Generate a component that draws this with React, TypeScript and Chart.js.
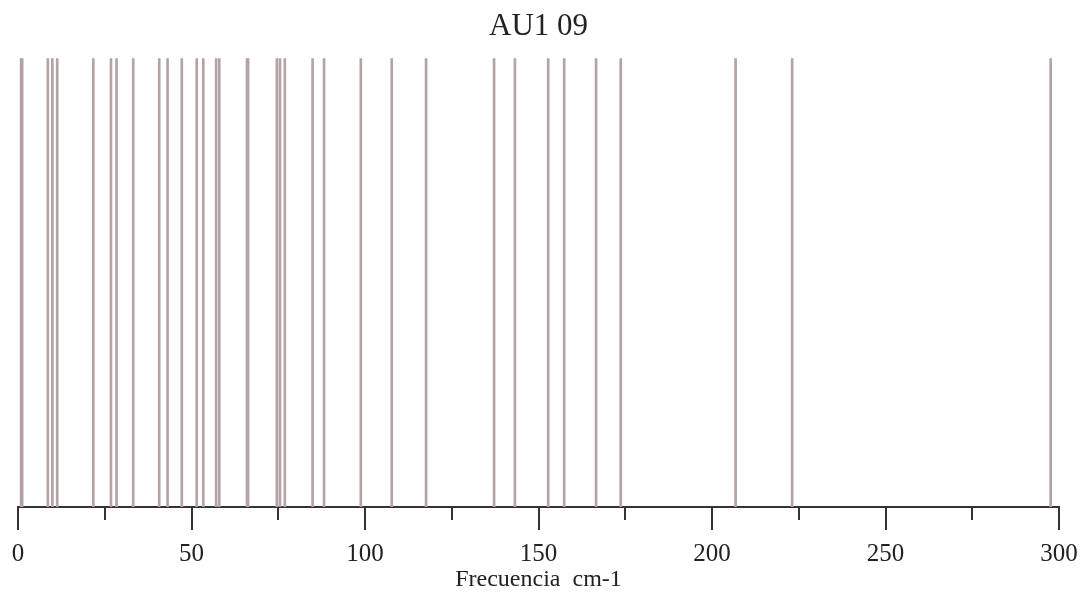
import React, { useEffect, useRef } from "react";
import { Chart, registerables } from "chart.js";

Chart.register(...registerables);

const chartTitle = "AU1 09";
const axisTitle = "Frecuencia  cm-1";
const frequencies: number[] = [
  0.9, 1.2, 8.6, 9.9, 11.3, 21.7, 26.8, 28.4, 33.2, 40.7, 43.1, 47.2, 51.5, 53.4,
  57.1, 58.0, 66.0, 66.3, 74.6, 75.5, 76.9, 84.9, 88.2, 98.8, 107.7, 117.6, 137.2,
  143.2, 152.8, 157.4, 166.6, 173.7, 206.8, 223.1, 297.6,
];
const intensities: number[] = frequencies.map(() => 1);
const tickValues: number[] = [0, 25, 50, 75, 100, 125, 150, 175, 200, 225, 250, 275, 300];

const FONT = "'Liberation Serif', 'DejaVu Serif', serif";

const tickPlugin = {
  id: "customTicks",
  afterDraw(chart: any) {
    const scale = chart.scales.x;
    const ctx = chart.ctx;
    const bottom = chart.chartArea.bottom;
    ctx.save();
    ctx.strokeStyle = "#333";
    ctx.lineWidth = 2;
    tickValues.forEach((v) => {
      const x = Math.round(scale.getPixelForValue(v));
      const len = v % 50 === 0 ? 23 : 13;
      ctx.beginPath();
      ctx.moveTo(x, bottom);
      ctx.lineTo(x, bottom + len);
      ctx.stroke();
    });
    ctx.restore();
  },
};

export default function App() {
  const ref = useRef<HTMLCanvasElement | null>(null);
  useEffect(() => {
    if (!ref.current) return;
    const chart = new Chart(ref.current, {
      type: "bar",
      data: {
        datasets: [
          {
            data: frequencies.map((f, i) => ({ x: f, y: intensities[i] })),
            backgroundColor: "#b5a2a2",
            barThickness: 2,
            grouped: false,
          } as any,
        ],
      },
      options: {
        animation: false,
        responsive: true,
        maintainAspectRatio: false,
        layout: { padding: { left: 18, right: 25, top: 0, bottom: 4 } },
        plugins: {
          legend: { display: false },
          tooltip: { enabled: false },
          title: {
            display: true,
            text: chartTitle,
            color: "#222",
            font: { family: FONT, size: 31, weight: "normal", lineHeight: 1.2 },
            padding: { top: 8, bottom: 13 },
          },
        },
        scales: {
          x: {
            type: "linear",
            min: 0,
            max: 300,
            offset: false,
            grid: { display: false, drawTicks: true, tickLength: 35 },
            border: { display: true, color: "#333", width: 2 },
            ticks: {
              stepSize: 50,
              color: "#222",
              padding: 0,
              maxRotation: 0,
              autoSkip: false,
              font: { family: FONT, size: 25, lineHeight: 1.0 },
            },
            title: {
              display: true,
              text: axisTitle,
              color: "#222",
              font: { family: FONT, size: 24, lineHeight: 1.0 },
              padding: { top: 1, bottom: 0 },
            },
          },
          y: { display: false, min: 0, max: 1 },
        },
      },
      plugins: [tickPlugin],
    });
    return () => chart.destroy();
  }, []);
  return (
    <div style={{ position: "fixed", left: 0, top: 0, width: 1084, height: 596, background: "#fff" }}>
      <canvas ref={ref} />
    </div>
  );
}
